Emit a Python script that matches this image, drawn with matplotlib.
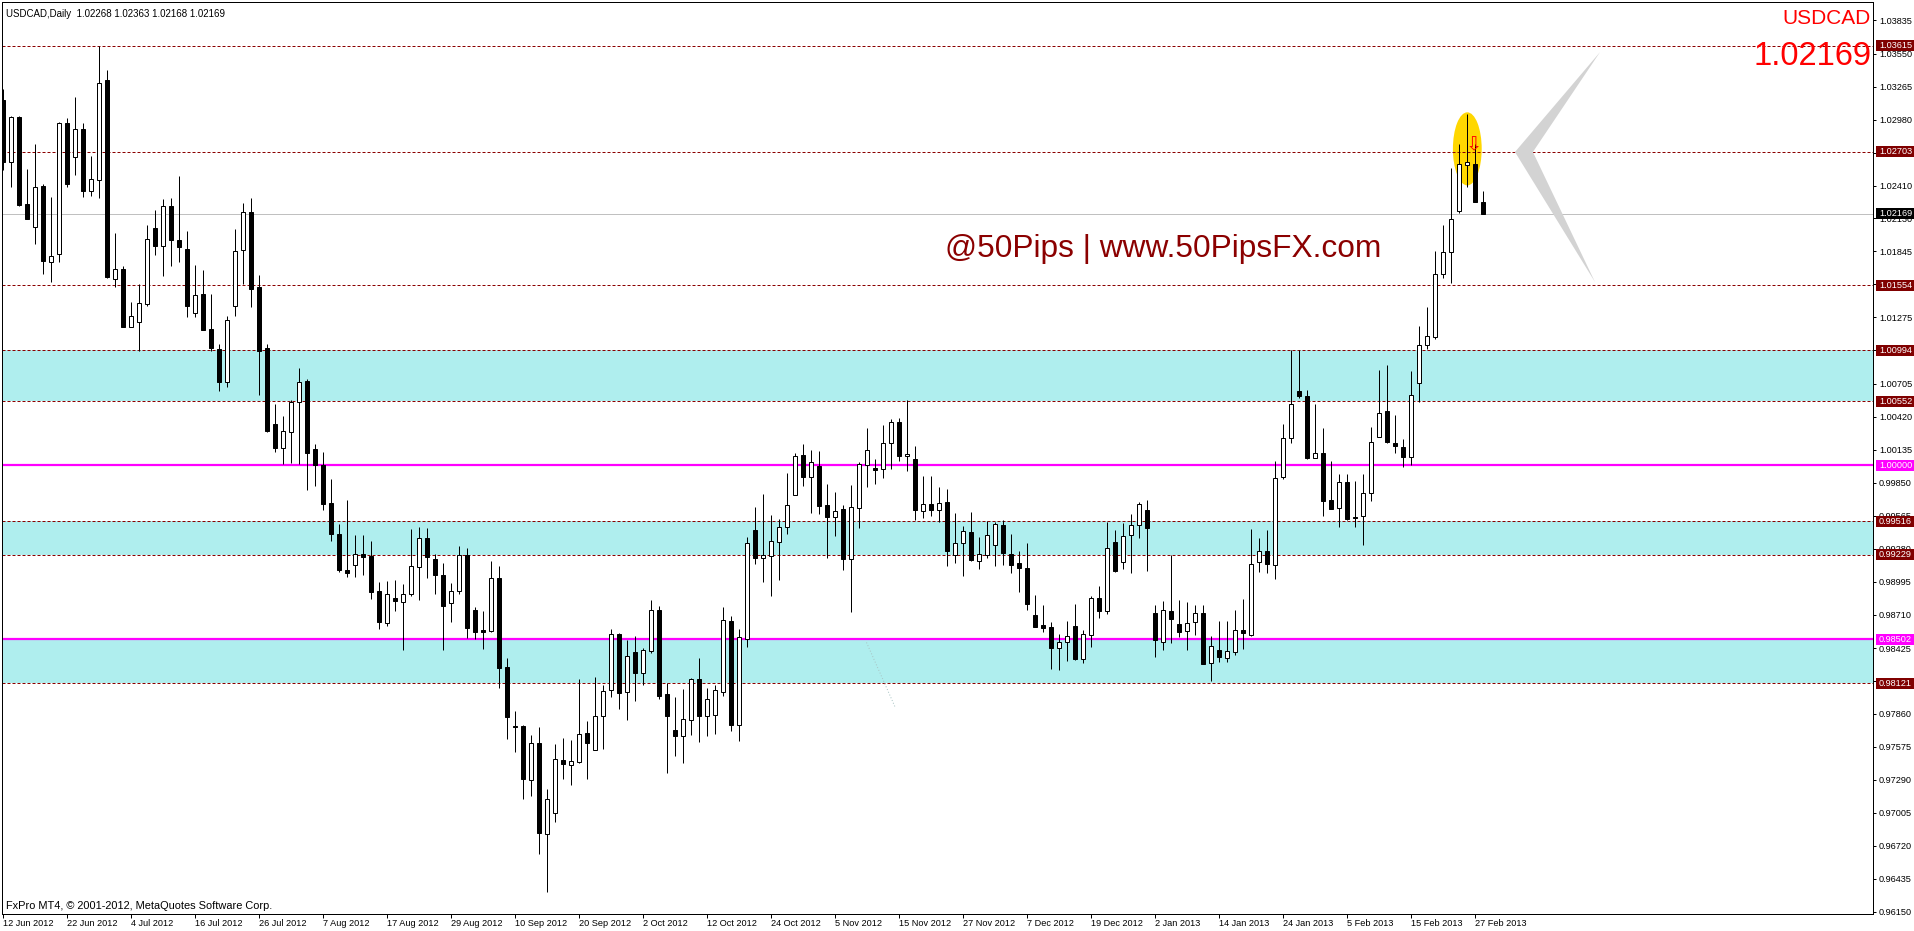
import numpy as np
import matplotlib
matplotlib.use('Agg')
import matplotlib.pyplot as plt
import matplotlib.transforms as mtransforms
from matplotlib.patches import Ellipse, Polygon, Rectangle

# daily USDCAD candles, 12 Jun 2012 .. 28 Feb 2013
opens = [1.03149, 1.02619, 1.02999, 1.02250, 1.02054, 1.02405, 1.01755, 1.01824, 1.02947, 1.02659,
         1.02895, 1.02368, 1.02463, 1.03321, 1.01608, 1.01688, 1.01193, 1.01236, 1.01389, 1.02048,
         1.01890, 1.02233, 1.01945, 1.01867, 1.01311, 1.01478, 1.01176, 1.01003, 1.00715, 1.01371,
         1.01855, 1.02187, 1.01533, 1.01007, 1.00360, 1.00150, 1.00290, 1.00549, 1.00725, 1.00138,
         1.00000, 0.99672, 0.99405, 0.99094, 0.99140, 0.99238, 0.99215, 0.98913, 0.98640, 0.98855,
         0.98821, 0.98893, 0.99126, 0.99376, 0.99195, 0.99057, 0.98815, 0.98919, 0.99223, 0.98749,
         0.98576, 0.98571, 0.99031, 0.98258, 0.97753, 0.97753, 0.97288, 0.97604, 0.96820, 0.97001,
         0.97457, 0.97414, 0.97446, 0.97690, 0.97543, 0.97836, 0.98060, 0.98542, 0.98043, 0.98387,
         0.98212, 0.98396, 0.98749, 0.98026, 0.97716, 0.97670, 0.97807, 0.98158, 0.97839, 0.97845,
         0.98049, 0.98654, 0.97764, 0.98502, 0.99440, 0.99202, 0.99222, 0.99340, 0.99472, 0.99745,
         1.00092, 0.99900, 0.99991, 0.99656, 0.99555, 0.99621, 0.99194, 0.99633, 1.00000, 0.99980,
         0.99971, 1.00195, 1.00370, 1.00083, 1.00057, 0.99607, 0.99670, 0.99618, 0.99687, 0.99231,
         0.99331, 0.99429, 0.99179, 0.99228, 0.99317, 0.99489, 0.99239, 0.99156, 0.99113, 0.98709,
         0.98622, 0.98602, 0.98421, 0.98473, 0.98611, 0.98332, 0.98539, 0.98858, 0.98743, 0.99341,
         0.99166, 0.99399, 0.99488, 0.99617, 0.98729, 0.98479, 0.98740, 0.98634, 0.98573, 0.98648,
         0.98729, 0.98297, 0.98404, 0.98341, 0.98389, 0.98582, 0.98539, 0.99166, 0.99264, 0.99143,
         0.99899, 1.00239, 1.00638, 1.00595, 1.00063, 1.00109, 0.99698, 0.99632, 0.99859, 0.99557,
         0.99563, 0.99764, 1.00244, 1.00466, 1.00196, 1.00162, 1.00069, 1.00710, 1.01041, 1.01108,
         1.01647, 1.01838, 1.02193, 1.02591, 1.02599, 1.02268]
highs = [1.03241, 1.03010, 1.03010, 1.02552, 1.02774, 1.02423, 1.02310, 1.02958, 1.02993, 1.03174,
         1.02955, 1.02665, 1.03615, 1.03408, 1.01999, 1.01714, 1.01412, 1.01559, 1.02068, 1.02198,
         1.02293, 1.02302, 1.02492, 1.02017, 1.01723, 1.01680, 1.01481, 1.01046, 1.01291, 1.02034,
         1.02259, 1.02302, 1.01642, 1.01050, 1.00526, 1.00423, 1.00561, 1.00837, 1.00748, 1.00187,
         1.00112, 0.99879, 0.99497, 0.99698, 0.99396, 0.99396, 0.99344, 0.98990, 0.99002, 0.99008,
         0.98979, 0.99454, 0.99468, 0.99462, 0.99238, 0.99160, 0.98985, 0.99301, 0.99290, 0.98778,
         0.98740, 0.99172, 0.99134, 0.98336, 0.97882, 0.97760, 0.97676, 0.97741, 0.97208, 0.97598,
         0.97647, 0.97632, 0.98158, 0.97793, 0.98172, 0.98106, 0.98588, 0.98551, 0.98493, 0.98528,
         0.98422, 0.98838, 0.98786, 0.98121, 0.98005, 0.98072, 0.98163, 0.98336, 0.98077, 0.98106,
         0.98775, 0.98700, 0.98588, 0.99383, 0.99641, 0.99750, 0.99570, 0.99535, 0.99931, 1.00106,
         1.00181, 1.00129, 1.00121, 0.99836, 0.99768, 0.99661, 0.99828, 1.00026, 1.00319, 1.00057,
         1.00344, 1.00396, 1.00405, 1.00560, 1.00164, 0.99905, 0.99905, 0.99811, 0.99799, 0.99592,
         0.99475, 0.99601, 0.99380, 0.99518, 0.99512, 0.99532, 0.99406, 0.99257, 0.99328, 0.98881,
         0.98795, 0.98645, 0.98542, 0.98657, 0.98801, 0.98576, 0.98870, 0.98956, 0.99514, 0.99439,
         0.99500, 0.99577, 0.99687, 0.99698, 0.98798, 0.98827, 0.99223, 0.98835, 0.98818, 0.98792,
         0.98792, 0.98525, 0.98654, 0.98654, 0.98755, 0.98844, 0.99454, 0.99376, 0.99445, 1.00035,
         1.00354, 1.00992, 1.00992, 1.00653, 1.00526, 1.00325, 1.00035, 0.99922, 0.99928, 0.99868,
         0.99928, 1.00331, 1.00825, 1.00863, 1.00430, 1.00228, 1.00811, 1.01200, 1.01362, 1.01849,
         1.02074, 1.02559, 1.02767, 1.03026, 1.02767, 1.02363]
lows = [1.02544, 1.02400, 1.02235, 1.02120, 1.01910, 1.01648, 1.01579, 1.01752, 1.02400, 1.02500,
        1.02313, 1.02322, 1.02305, 1.01615, 1.01536, 1.01190, 1.01190, 1.00986, 1.01377, 1.01809,
        1.01636, 1.01714, 1.01752, 1.01276, 1.01282, 1.01164, 1.00989, 1.00637, 1.00672, 1.01291,
        1.01559, 1.01369, 1.00608, 1.00288, 1.00115, 1.00014, 1.00020, 1.00014, 0.99784, 0.99822,
        0.99612, 0.99347, 0.99080, 0.99037, 0.99037, 0.99051, 0.98850, 0.98588, 0.98614, 0.98743,
        0.98404, 0.98873, 0.98835, 0.99028, 0.98893, 0.98410, 0.98648, 0.98893, 0.98513, 0.98504,
        0.98418, 0.98562, 0.98079, 0.97641, 0.97532, 0.97127, 0.97145, 0.96645, 0.96318, 0.96921,
        0.97294, 0.97248, 0.97432, 0.97296, 0.97543, 0.97558, 0.98003, 0.97902, 0.97805, 0.97971,
        0.98109, 0.98384, 0.97988, 0.97345, 0.97498, 0.97437, 0.97678, 0.97618, 0.97670, 0.97681,
        0.98011, 0.97713, 0.97624, 0.98436, 0.99148, 0.98993, 0.98872, 0.99010, 0.99406, 0.99745,
        0.99819, 0.99590, 0.99578, 0.99202, 0.99389, 0.99096, 0.98737, 0.99460, 0.99813, 0.99836,
        0.99891, 0.99966, 1.00037, 0.99951, 0.99526, 0.99547, 0.99561, 0.99515, 0.99133, 0.99159,
        0.99047, 0.99171, 0.99105, 0.99202, 0.99133, 0.99142, 0.99073, 0.98907, 0.98752, 0.98608,
        0.98565, 0.98246, 0.98235, 0.98315, 0.98318, 0.98300, 0.98433, 0.98683, 0.98717, 0.99080,
        0.99103, 0.99071, 0.99373, 0.99088, 0.98346, 0.98412, 0.98467, 0.98519, 0.98412, 0.98536,
        0.98289, 0.98139, 0.98303, 0.98303, 0.98366, 0.98418, 0.98525, 0.99080, 0.99071, 0.99019,
        0.99882, 1.00193, 1.00581, 1.00055, 1.00063, 0.99563, 0.99623, 0.99468, 0.99525, 0.99468,
        0.99310, 0.99689, 1.00244, 1.00193, 1.00104, 0.99983, 1.00006, 1.00548, 1.01004, 1.01085,
        1.01618, 1.01575, 1.02172, 1.02400, 1.02268, 1.02168]
closes = [1.02616, 1.03004, 1.02244, 1.02123, 1.02403, 1.01760, 1.01806, 1.02947, 1.02426, 1.02895,
          1.02365, 1.02472, 1.03292, 1.01622, 1.01694, 1.01190, 1.01288, 1.01400, 1.01953, 1.01890,
          1.02238, 1.01939, 1.01881, 1.01377, 1.01469, 1.01164, 1.01009, 1.00715, 1.01253, 1.01850,
          1.02187, 1.01518, 1.00988, 1.00296, 1.00150, 1.00299, 1.00544, 1.00722, 1.00106, 1.00006,
          0.99666, 0.99408, 0.99097, 0.99071, 0.99238, 0.99209, 0.98907, 0.98648, 0.98893, 0.98829,
          0.98893, 0.99129, 0.99376, 0.99209, 0.99054, 0.98786, 0.98919, 0.99229, 0.98597, 0.98562,
          0.98559, 0.99031, 0.98251, 0.97833, 0.97741, 0.97294, 0.97604, 0.96834, 0.97122, 0.97466,
          0.97423, 0.97449, 0.97681, 0.97604, 0.97836, 0.98051, 0.98542, 0.98040, 0.98353, 0.98212,
          0.98404, 0.98749, 0.98014, 0.97842, 0.97670, 0.97810, 0.98158, 0.97842, 0.97983, 0.98060,
          0.98663, 0.97764, 0.98516, 0.99334, 0.99202, 0.99231, 0.99351, 0.99472, 0.99661, 1.00083,
          0.99900, 1.00029, 0.99647, 0.99555, 0.99610, 0.99194, 0.99644, 1.00014, 1.00135, 0.99960,
          1.00195, 1.00376, 1.00077, 1.00100, 0.99615, 0.99670, 0.99615, 0.99679, 0.99262, 0.99326,
          0.99437, 0.99185, 0.99239, 0.99403, 0.99498, 0.99245, 0.99142, 0.99116, 0.98806, 0.98608,
          0.98599, 0.98427, 0.98473, 0.98530, 0.98329, 0.98548, 0.98858, 0.98743, 0.99290, 0.99085,
          0.99393, 0.99488, 0.99669, 0.99459, 0.98490, 0.98755, 0.98674, 0.98562, 0.98642, 0.98729,
          0.98289, 0.98444, 0.98346, 0.98401, 0.98582, 0.98553, 0.99152, 0.99264, 0.99152, 0.99894,
          1.00239, 1.00532, 1.00598, 1.00063, 1.00109, 0.99692, 0.99623, 0.99859, 0.99537, 0.99546,
          0.99764, 1.00204, 1.00454, 1.00201, 1.00167, 1.00069, 1.00609, 1.01041, 1.01119, 1.01647,
          1.01838, 1.02123, 1.02599, 1.02611, 1.02268, 1.02169]

date_labels = ['12 Jun 2012', '22 Jun 2012', '4 Jul 2012', '16 Jul 2012', '26 Jul 2012',
               '7 Aug 2012', '17 Aug 2012', '29 Aug 2012', '10 Sep 2012', '20 Sep 2012',
               '2 Oct 2012', '12 Oct 2012', '24 Oct 2012', '5 Nov 2012', '15 Nov 2012',
               '27 Nov 2012', '7 Dec 2012', '19 Dec 2012', '2 Jan 2013', '14 Jan 2013',
               '24 Jan 2013', '5 Feb 2013', '15 Feb 2013', '27 Feb 2013']
price_ticks = ['1.03835', '1.03550', '1.03265', '1.02980', '1.02695', '1.02410', '1.02130',
               '1.01845', '1.01560', '1.01275', '1.00990', '1.00705', '1.00420', '1.00135',
               '0.99850', '0.99565', '0.99280', '0.98995', '0.98710', '0.98425', '0.98140',
               '0.97860', '0.97575', '0.97290', '0.97005', '0.96720', '0.96435', '0.96150']

red_levels = [1.03615, 1.02703, 1.01554, 1.00994, 1.00552, 0.99516, 0.99229, 0.98121]
magenta_levels = [1.00000, 0.98502]
zones = [(1.00552, 1.00994), (0.99229, 0.99516), (0.98121, 0.98502)]
last_price = 1.02169
header = 'USDCAD,Daily  1.02268 1.02363 1.02168 1.02169'

# faint trend line left on the chart (bar index, price)
trend_x = [107.9, 111.5]
trend_y = [0.98473, 0.97912]

W, H = 1914, 931
PX = 0.72  # one pixel in points at dpi 100
plt.rcParams['font.family'] = ['Liberation Sans', 'DejaVu Sans']

fig = plt.figure(figsize=(W / 100, H / 100), dpi=100)
fig.patch.set_facecolor('white')
ax = fig.add_axes([2 / W, (H - 914) / H, 1871 / W, 912 / H])

n = len(opens)
x = np.arange(n)
o = np.array(opens); h = np.array(highs); l = np.array(lows); c = np.array(closes)
up = c >= o

ax.set_xlim(-0.1625, -0.1625 + 1871 / 8)
ax.set_ylim(0.96132, 1.03994)

# zones, levels
for lo, hi in zones:
    ax.axhspan(lo, hi, color='#AFEEEE', lw=0, zorder=0.5)
ell = Ellipse((183.0, 1.02728), width=3.6, height=0.0063, color='#FFD700', lw=0, zorder=1)
ax.add_patch(ell)
for v in red_levels:
    ax.axhline(v, color='#8B0000', lw=PX, ls=(0, (3, 2)), zorder=2)
for v in magenta_levels:
    ax.axhline(v, color='#FF00FF', lw=1.6, zorder=2)
ax.axhline(last_price, color='#C0C0C0', lw=PX, zorder=2)
ax.plot(trend_x, trend_y, color='#A8C4C4', lw=PX, ls=(0, (1, 2)), zorder=2)

chev = Polygon([(199.6, 1.03563), (188.96, 1.02701), (198.96, 1.01580), (191.2, 1.02701)],
               closed=True, fc='#D3D3D3', ec='none', zorder=2.5)
ax.add_patch(chev)

# candles
ax.vlines(x, l, h, color='black', lw=PX, zorder=4)
body_lo = np.minimum(o, c)
body_h = np.maximum(np.abs(c - o), 0.00005)
ax.bar(x[up], body_h[up], bottom=body_lo[up], width=0.5, color='white',
       edgecolor='black', linewidth=PX, zorder=5)
ax.bar(x[~up], body_h[~up], bottom=body_lo[~up], width=0.5, color='black',
       edgecolor='black', linewidth=PX, zorder=5)

# sell arrow inside the yellow marker
ax.text(183.8, 1.02765, '\u21e9', color='red', fontsize=14, family='DejaVu Sans',
        ha='center', va='center', zorder=6)

# axes styling
for sp in ax.spines.values():
    sp.set_linewidth(PX)
    sp.set_color('black')
ax.set_xticks(np.arange(0, n, 8)[:len(date_labels)])
ax.set_xticklabels(date_labels, ha='left')
ax.yaxis.tick_right()
ax.set_yticks([float(t) for t in price_ticks])
ax.set_yticklabels(price_ticks)
ax.tick_params(axis='x', direction='out', length=2.9, width=PX, pad=0.8, labelsize=6.6)
ax.tick_params(axis='y', direction='out', length=2.2, width=PX, pad=2.2, labelsize=6.6)

# price boxes on the right scale
trans = mtransforms.blended_transform_factory(fig.transFigure, ax.transData)
box_h = 11 * 0.00008621
boxes = [(v, '#800000') for v in red_levels] + [(v, '#FF00FF') for v in magenta_levels] \
    + [(last_price, 'black')]
for v, col in boxes:
    ax.add_patch(Rectangle((1875.5 / W, v - box_h / 2), 38 / W, box_h, transform=trans,
                           fc=col, ec='none', clip_on=False, zorder=7))
    ax.text(1879 / W, v, f'{v:.5f}', transform=trans, color='white', fontsize=6.6,
            va='center', ha='left', clip_on=False, zorder=8)

# texts
fig.text(6 / W, 1 - 17 / H, header, fontsize=7.0, va='baseline')
fig.text(6 / W, 1 - 909 / H, 'FxPro MT4, \u00a9 2001-2012, MetaQuotes Software Corp.',
         fontsize=7.9, va='baseline')
fig.text(945 / W, 1 - 256.7 / H, '@50Pips | www.50PipsFX.com', fontsize=22.8,
         color='#8B0000', va='baseline')
fig.text(1871 / W, 1 - 23.5 / H, 'USDCAD', fontsize=15, color='red', ha='right', va='baseline')
fig.text(1871 / W, 1 - 65 / H, '1.02169', fontsize=23.5, color='red', ha='right', va='baseline')

fig.savefig('out.png', dpi=100, facecolor='white')
